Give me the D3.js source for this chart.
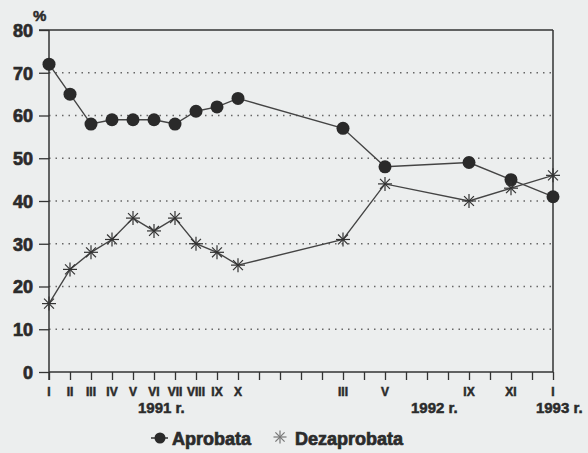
<!DOCTYPE html>
<html>
<head>
<meta charset="utf-8">
<script src="https://cdn.jsdelivr.net/npm/d3@7"></script>
<style>
  body { margin: 0; background: #eceeee; }
  svg text { font-family: "Liberation Sans", Arial, sans-serif; font-weight: bold; fill: #2b2b2b; stroke: #2b2b2b; stroke-width: 0.5; }
</style>
</head>
<body>
<div id="chart"></div>
<script>
// months counted from I 1991 (0) to I 1993 (24)
var months = [0, 1, 2, 3, 4, 5, 6, 7, 8, 9, 14, 16, 20, 22, 24];
var aprobata = [72, 65, 58, 59, 59, 59, 58, 61, 62, 64, 57, 48, 49, 45, 41];
var dezaprobata = [16, 24, 28, 31, 36, 33, 36, 30, 28, 25, 31, 44, 40, 43, 46];
var monthLabels = ['I', 'II', 'III', 'IV', 'V', 'VI', 'VII', 'VIII', 'IX', 'X', 'III', 'V', 'IX', 'XI', 'I'];
var yearLabels = [{ m: 5.35, t: '1991 r.' }, { m: 18.35, t: '1992 r.' }, { m: 24.3, t: '1993 r.' }];
var yTicks = [0, 10, 20, 30, 40, 50, 60, 70, 80];

var W = 588, H = 453;
var m = { left: 49, right: 35, top: 30, bottom: 81 };

var svg = d3.select('#chart').append('svg')
    .attr('width', W).attr('height', H);

svg.append('rect').attr('width', W).attr('height', H).attr('fill', '#eceeee');

var x = d3.scaleLinear().domain([0, 24]).range([m.left, W - m.right]);
var y = d3.scaleLinear().domain([0, 80]).range([H - m.bottom, m.top]);

// dotted grid
svg.selectAll('.grid').data(yTicks.filter(function(d) { return d > 0 && d < 80; }))
    .enter().append('line')
    .attr('x1', x(0)).attr('x2', x(24))
    .attr('y1', function(d) { return y(d); })
    .attr('y2', function(d) { return y(d); })
    .attr('stroke', '#666')
    .attr('stroke-width', 1.3)
    .attr('stroke-dasharray', '1.5,5');

// y axis
var yAxis = d3.axisLeft(y).tickValues(yTicks).tickSize(10).tickPadding(6);
var gy = svg.append('g').attr('transform', 'translate(' + x(0) + ',0)').call(yAxis);
gy.select('.domain').remove();
gy.selectAll('line').attr('stroke', '#333').attr('stroke-width', 1.3);
gy.selectAll('text').attr('font-size', 18).attr('dy', '0.36em').style('stroke-width', 0.7);
gy.append('line').attr('x1', 0).attr('x2', 0).attr('y1', y(80)).attr('y2', y(0) + 8)
    .attr('stroke', '#333').attr('stroke-width', 1.5);

// x axis with a tick for every month
var xAxis = d3.axisBottom(x).tickValues(d3.range(0, 25)).tickSize(8).tickFormat('');
var gx = svg.append('g').attr('transform', 'translate(0,' + y(0) + ')').call(xAxis);
gx.select('.domain').attr('stroke', '#333').attr('stroke-width', 1.5).attr('d', 'M' + x(0) + ',0H' + x(24));
gx.selectAll('line').attr('stroke', '#333').attr('stroke-width', 1.3);

// frame top / right
svg.append('line').attr('x1', x(0) - 10).attr('x2', x(24)).attr('y1', y(80)).attr('y2', y(80))
    .attr('stroke', '#333').attr('stroke-width', 1.5);
svg.append('line').attr('x1', x(24)).attr('x2', x(24)).attr('y1', y(80)).attr('y2', y(0))
    .attr('stroke', '#333').attr('stroke-width', 1.5);

// month labels
svg.selectAll('.mlab').data(months).enter().append('text')
    .attr('x', function(d) { return x(d); })
    .attr('y', y(0) + 24)
    .attr('text-anchor', 'middle')
    .attr('font-size', 12)
    .text(function(d, i) { return monthLabels[i]; });

svg.selectAll('.ylab').data(yearLabels).enter().append('text')
    .attr('x', function(d) { return x(d.m); })
    .attr('y', y(0) + 41)
    .attr('text-anchor', 'middle')
    .attr('font-size', 15)
    .text(function(d) { return d.t; });

svg.append('text').attr('x', 33).attr('y', 21).attr('font-size', 15).text('%');

var line = d3.line()
    .x(function(d) { return x(d[0]); })
    .y(function(d) { return y(d[1]); });

var aData = months.map(function(d, i) { return [d, aprobata[i]]; });
var dData = months.map(function(d, i) { return [d, dezaprobata[i]]; });

svg.append('path').datum(aData).attr('d', line)
    .attr('fill', 'none').attr('stroke', '#444').attr('stroke-width', 1.4);
svg.append('path').datum(dData).attr('d', line)
    .attr('fill', 'none').attr('stroke', '#444').attr('stroke-width', 1.4);

function star(g, r) {
    for (var k = 0; k < 4; k++) {
        var a = k * Math.PI / 4;
        g.append('line')
            .attr('x1', -r * Math.cos(a)).attr('y1', -r * Math.sin(a))
            .attr('x2', r * Math.cos(a)).attr('y2', r * Math.sin(a))
            .attr('stroke', '#333').attr('stroke-width', 1.2);
    }
}

svg.selectAll('.ma').data(aData).enter().append('circle')
    .attr('cx', function(d) { return x(d[0]); })
    .attr('cy', function(d) { return y(d[1]); })
    .attr('r', 6.5)
    .attr('fill', '#2a2a2a');

svg.selectAll('.md').data(dData).enter().append('g')
    .attr('transform', function(d) { return 'translate(' + x(d[0]) + ',' + y(d[1]) + ')'; })
    .each(function() { star(d3.select(this), 7); });

// legend
var lg = svg.append('g').attr('transform', 'translate(0,438)');
lg.append('line').attr('x1', 151).attr('x2', 168).attr('y1', 0).attr('y2', 0)
    .attr('stroke', '#333').attr('stroke-width', 1.5);
lg.append('circle').attr('cx', 160).attr('cy', 0).attr('r', 5.5).attr('fill', '#2a2a2a');
lg.append('text').attr('x', 172).attr('y', 6.5).attr('font-size', 18).style('stroke-width', 0.7).text('Aprobata');
var ls = lg.append('g').attr('transform', 'translate(280,-1)');
star(ls, 6.5);
ls.selectAll('line').attr('stroke', '#777');
lg.append('text').attr('x', 295).attr('y', 6.5).attr('font-size', 18).style('stroke-width', 0.7).text('Dezaprobata');
</script>
</body>
</html>
